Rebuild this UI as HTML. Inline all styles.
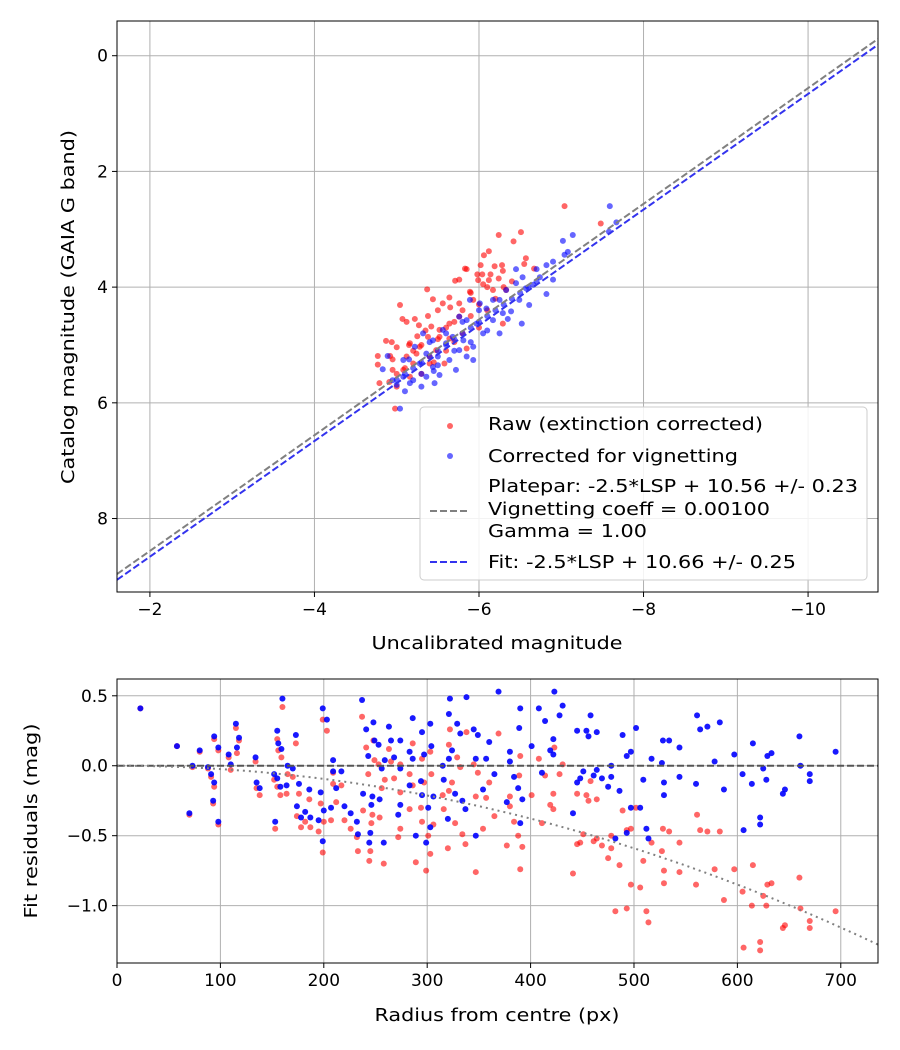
<!DOCTYPE html>
<html><head><meta charset="utf-8"><style>
body{margin:0;background:#fff}
svg{display:block;font-family:"DejaVu Sans","Liberation Sans",sans-serif}
</style></head><body>
<svg id="c" width="900" height="1050" viewBox="0 0 900 1050"></svg>
<script>
// ---- top chart data ----
const redX=[-7.04,-7.48,-6.51,-6.24,-6.42,-6.12,-6.06,-5.83,-5.85,-6.02,-6.19,-6.28,-6.57,-6.55,-6.67,-5.71,-5.76,-5.98,-6.04,-6.14,-6.29,-5.99,-6.12,-6.24,-5.37,-5.44,-5.64,-5.89,-6.17,-6.33,-5.04,-5.56,-5.76,-5.93,-5.07,-5.12,-5.22,-5.38,-5.27,-5.42,-5.52,-5.64,-5.76,-6.29,-4.87,-4.94,-5.00,-5.16,-5.28,-5.38,-5.52,-4.77,-4.77,-4.92,-5.12,-5.24,-5.48,-4.95,-5.08,-5.20,-5.40,-5.58,-4.91,-5.00,-5.16,-4.98,-5.85,-5.64,-4.79,
 -5.3,-5.5,-5.6,-5.7,-5.8,-5.9,-6.0,-6.1,-6.2,-5.4,-5.2,-5.1,-5.0,-5.3,-5.6,-5.8,-6.0,-6.3,-6.4,-6.1,-5.5,-5.35,-5.15,-4.95,-5.45,-5.7,-5.9,-6.05,-5.65,-5.25];
const redY=[2.60,2.90,3.05,3.10,3.21,3.38,3.45,3.68,3.69,3.62,3.64,3.62,3.50,3.60,3.68,3.89,3.87,3.78,3.78,3.78,3.72,3.88,3.88,3.85,4.04,4.21,4.18,4.08,4.05,4.05,4.31,4.28,4.28,4.22,4.55,4.60,4.55,4.50,4.66,4.68,4.74,4.63,4.51,4.63,4.93,4.95,5.04,4.97,5.03,4.86,4.86,5.19,5.34,5.19,5.20,5.15,5.09,5.43,5.43,5.32,5.32,5.32,5.64,5.72,5.55,6.10,5.06,4.89,5.66,
 5.0,4.9,4.7,4.6,4.4,4.5,4.3,4.4,4.2,5.2,5.1,5.4,5.5,5.5,5.1,4.8,4.7,4.0,3.9,4.0,4.4,4.75,5.0,5.25,5.3,4.95,4.1,3.95,4.35,4.85];
const blueX=[-7.59,-7.67,-7.58,-7.14,-7.02,-7.08,-7.04,-6.90,-6.82,-6.70,-6.45,-6.53,-6.74,-6.90,-6.45,-6.57,-6.66,-6.82,-6.33,-6.17,-6.25,-6.49,-6.61,-6.39,-6.29,-6.52,-5.89,-6.01,-6.09,-5.76,-5.85,-5.97,-6.17,-6.25,-6.05,-5.56,-5.68,-5.81,-5.93,-5.32,-5.44,-5.60,-5.76,-5.22,-5.36,-5.50,-5.64,-5.85,-5.93,-4.89,-5.08,-5.28,-5.44,-5.72,-5.08,-5.20,-5.36,-5.52,-5.00,-5.16,-5.30,-5.10,-4.83,-5.04,-4.95,-5.46,
 -5.2,-5.3,-5.4,-5.5,-5.6,-5.7,-5.8,-5.9,-6.0,-6.1,-6.2,-6.3,-6.4,-6.5,-6.6,-6.7,-5.1,-5.0,-5.3,-5.5,-5.7,-5.9,-6.1,-5.4,-5.6,-5.8,-6.0,-5.15,-5.45,-6.35];
const blueY=[2.60,2.88,3.04,3.10,3.20,3.39,3.44,3.56,3.62,3.69,3.69,3.83,3.83,3.87,3.93,4.02,3.96,4.12,4.05,4.22,4.22,4.22,4.31,4.42,4.45,4.63,4.22,4.28,4.37,4.51,4.57,4.63,4.57,4.80,4.80,4.74,4.86,4.92,5.03,4.80,4.92,4.97,5.09,5.03,5.15,5.20,5.26,5.20,5.26,5.19,5.26,5.32,5.38,5.43,5.55,5.61,5.55,5.52,5.69,5.66,5.72,5.80,5.42,6.10,5.61,5.66,
 5.4,5.3,5.2,5.1,5.0,4.9,4.8,4.7,4.6,4.5,4.4,4.3,4.2,4.1,4.0,3.9,5.5,5.6,5.5,5.35,5.1,4.95,4.75,4.95,4.8,4.6,4.4,5.25,5.45,4.55];
const plateparOffset=10.56;
const fitOffset=10.66;
const topXTicks=[-2,-4,-6,-8,-10];
const topYTicks=[0,2,4,6,8];
// ---- bottom chart data ----
const radius=[22.6,58,73,80,70,88,91,94,93,94,98,98,108,110,115,118,116,134,135,138,153,155,156,159,160,152,155,158,164,165,170,173,176,174,178,182,186,187,195,197,199,203,199,200,207,209,209,212,217,220,226,232,233,237,238,241,243,244,245,246,247,248,249,253,254,256,258,259,263,265,268,272,274,274,274,283,283,286,286,289,294,295,295,297,299,301,303,303,304,306,315,316,320,321,322,321,324,327,329,332,334,337,338,345,347,347,349,354,357,360,365,369,423,390,389,408,414,431,428,422,401,380,380,388,384,392,390,377,411,419,422,441,445,445,448,451,454,456,458,461,464,464,469,475,478,478,482,486,489,493,493,497,497,502,506,509,512,514,517,527,528,529,529,534,544,544,560,561,564,571,578,583,587,597,605,606,614,615,622,622,625,628,629,633,644,646,660,661,670,670,695];
const blueRes=[0.41,0.14,0.0,0.11,-0.34,-0.01,-0.06,-0.12,-0.25,0.21,0.13,-0.40,0.08,0.01,0.30,0.20,0.13,0.06,-0.12,-0.16,-0.40,0.25,0.16,0.12,0.48,-0.06,-0.09,-0.15,-0.14,0.0,-0.02,0.22,-0.13,-0.29,-0.37,-0.33,-0.17,-0.37,-0.39,-0.19,0.41,0.33,-0.54,-0.32,-0.30,-0.04,0.04,-0.16,-0.04,-0.29,-0.34,-0.40,-0.49,0.47,-0.20,0.26,0.07,-0.55,-0.48,-0.28,-0.22,0.31,0.18,0.15,-0.24,-0.02,-0.55,0.04,0.28,0.18,0.06,-0.35,0.18,-0.28,-0.02,0.10,-0.14,0.34,0.05,-0.50,-0.11,0.24,-0.21,0.08,-0.55,-0.30,-0.44,0.30,0.14,-0.22,0.0,-0.10,-0.38,0.37,0.48,0.05,0.11,-0.20,0.30,0.23,-0.25,-0.31,0.49,0.26,0.05,-0.50,0.22,-0.17,0.05,0.17,-0.06,0.53,0.53,0.41,0.27,0.41,0.32,0.43,0.36,0.19,0.14,0.10,0.03,-0.16,-0.08,-0.24,-0.41,-0.26,-0.05,0.11,0.08,-0.34,0.25,-0.12,-0.09,-0.04,0.25,0.21,0.36,-0.07,0.24,-0.03,-0.09,-0.15,0.0,-0.08,-0.52,-0.18,0.22,0.07,-0.48,0.10,-0.30,0.27,-0.30,-0.10,-0.45,-0.52,0.05,0.02,0.18,-0.12,-0.21,0.18,0.13,-0.08,-0.13,0.36,0.26,0.28,0.03,0.31,-0.17,0.08,-0.06,-0.46,-0.13,0.16,-0.37,-0.42,-0.02,-0.10,0.07,0.09,-0.20,-0.17,0.21,0.0,-0.06,-0.11,0.10];
const redRes=[0.41,0.14,-0.01,0.10,-0.35,-0.02,-0.08,-0.15,-0.27,0.19,0.11,-0.42,0.06,-0.03,0.27,0.18,0.09,0.03,-0.16,-0.21,-0.45,0.19,0.11,0.06,0.42,-0.10,-0.15,-0.21,-0.20,-0.06,-0.08,0.16,-0.20,-0.36,-0.44,-0.40,-0.24,-0.44,-0.47,-0.27,0.33,0.25,-0.62,-0.40,-0.39,-0.13,-0.05,-0.26,-0.14,-0.39,-0.45,-0.51,-0.61,0.35,-0.32,0.13,-0.06,-0.68,-0.61,-0.41,-0.35,0.18,0.04,0.01,-0.37,-0.16,-0.70,-0.10,0.12,0.03,-0.09,-0.51,0.01,-0.45,-0.19,-0.06,-0.31,0.16,-0.14,-0.69,-0.30,0.05,-0.40,-0.12,-0.75,-0.50,-0.63,0.10,-0.06,-0.42,-0.21,-0.31,-0.59,0.15,0.26,-0.18,-0.12,-0.41,0.06,-0.01,-0.49,-0.56,0.24,0.01,-0.22,-0.76,-0.05,-0.45,-0.23,-0.12,-0.36,0.23,0.13,0.07,-0.07,0.05,-0.07,0.01,-0.06,-0.20,-0.21,-0.22,-0.29,-0.50,-0.40,-0.58,-0.74,-0.57,-0.41,-0.28,-0.31,-0.77,-0.20,-0.56,-0.55,-0.49,-0.21,-0.25,-0.11,-0.54,-0.24,-0.52,-0.57,-0.66,-0.50,-0.59,-1.04,-0.71,-0.32,-0.46,-1.02,-0.45,-0.85,-0.30,-0.87,-0.68,-1.04,-1.12,-0.55,-0.61,-0.45,-0.75,-0.84,-0.47,-0.55,-0.76,-0.85,-0.35,-0.46,-0.47,-0.74,-0.47,-0.96,-0.74,-0.90,-1.30,-1.00,-0.71,-1.26,-1.32,-0.93,-1.00,-0.85,-0.84,-1.16,-1.14,-0.80,-1.02,-1.11,-1.16,-1.04];
const vignCoeff=2.36e-6;
const botXTicks=[0,100,200,300,400,500,600,700];
const botYTicks=[0.5,0.0,-0.5,-1.0];
const botYLabels=["0.5","0.0","\u22120.5","\u22121.0"];

const NS="http://www.w3.org/2000/svg";
const svg=document.getElementById('c');
function mk(tag,attrs,parent){const e=document.createElementNS(NS,tag);for(const k in attrs)e.setAttribute(k,attrs[k]);(parent||svg).appendChild(e);return e;}
function txt(s,x,y,anchor,parent,extra){const t=mk('text',Object.assign({x:x,y:y,'text-anchor':anchor,'font-size':16,fill:'#000'},extra||{}),parent);t.textContent=s;return t;}
function fit(t,w){t.setAttribute('textLength',w);t.setAttribute('lengthAdjust','spacingAndGlyphs');}
const minus=v=>String(v).replace('-','\u2212');

// ---- top axes ----
const T={l:117,r:878,t:21,b:592,x0:-1.6,x1:-10.85,y0:-0.6,y1:9.27};
const tx=v=>T.l+(v-T.x0)/(T.x1-T.x0)*(T.r-T.l);
const ty=v=>T.t+(v-T.y0)/(T.y1-T.y0)*(T.b-T.t);
const gTop=mk('g',{});


mk('defs',{}).innerHTML='<clipPath id="ct"><rect x="117" y="21" width="761" height="571"/></clipPath><clipPath id="cb"><rect x="117" y="679" width="761" height="284"/></clipPath>';
topXTicks.forEach(v=>{const x=tx(v);
 const g=mk('line',{x1:x,x2:x,y1:T.t,y2:T.b,stroke:'#b0b0b0','stroke-width':1},gTop);
 
 mk('line',{x1:x,x2:x,y1:T.b,y2:T.b+5,stroke:'#000'},gTop);
 const t=txt(minus(v),x,T.b+23,'middle',gTop,{'font-size':17});
 });
topYTicks.forEach(v=>{const y=ty(v);
 const g=mk('line',{x1:T.l,x2:T.r,y1:y,y2:y,stroke:'#b0b0b0','stroke-width':1},gTop);
 
 mk('line',{x1:T.l-5,x2:T.l,y1:y,y2:y,stroke:'#000'},gTop);
 const t=txt(String(v),T.l-9,y+6,'end',gTop,{'font-size':17});
 });
const ptsTop=mk('g',{'clip-path':'url(#ct)'},gTop);
for(let i=0;i<Math.min(redX.length,redY.length);i++){
 const c=mk('circle',{cx:tx(redX[i]),cy:ty(redY[i]),r:3,fill:'red','fill-opacity':0.6},ptsTop);
 }
for(let i=0;i<Math.min(blueX.length,blueY.length);i++){
 const c=mk('circle',{cx:tx(blueX[i]),cy:ty(blueY[i]),r:3,fill:'blue','fill-opacity':0.6},ptsTop);
 }
const lp=mk('line',{x1:tx(T.x0),y1:ty(T.x0+plateparOffset),x2:tx(T.x1),y2:ty(T.x1+plateparOffset),stroke:'#808080','stroke-width':2,'stroke-dasharray':'7,3'},ptsTop);

const lf=mk('line',{x1:tx(T.x0),y1:ty(T.x0+fitOffset),x2:tx(T.x1),y2:ty(T.x1+fitOffset),stroke:'#3333ee','stroke-width':2,'stroke-dasharray':'7,3'},ptsTop);

mk('rect',{x:T.l,y:T.t,width:T.r-T.l,height:T.b-T.t,fill:'none',stroke:'#000','stroke-width':1},gTop);
const xl=txt('Uncalibrated magnitude',497,649,'middle',gTop,{'font-size':18});
fit(xl,251);

const yl=txt('Catalog magnitude (GAIA G band)',0,0,'middle',gTop,{'font-size':18,transform:'translate(74,307) rotate(-90)'});
fit(yl,354);


// legend
const lg=mk('g',{},gTop);

mk('rect',{x:420,y:407,width:447,height:173,rx:4,fill:'#fff','fill-opacity':0.85,stroke:'#ccc'},lg);
mk('circle',{cx:450,cy:426,r:3,fill:'red','fill-opacity':0.6},lg);
fit(txt('Raw (extinction corrected)',488,430,'start',lg,{'font-size':18}),275);
mk('circle',{cx:450,cy:456,r:3,fill:'blue','fill-opacity':0.6},lg);
fit(txt('Corrected for vignetting',488,462,'start',lg,{'font-size':18}),250);
fit(txt('Platepar: -2.5*LSP + 10.56 +/- 0.23',488,492,'start',lg,{'font-size':18}),370);
fit(txt('Vignetting coeff = 0.00100',488,515,'start',lg,{'font-size':18}),282);
fit(txt('Gamma = 1.00',488,537,'start',lg,{'font-size':18}),159);
mk('line',{x1:430,x2:470,y1:511,y2:511,stroke:'#808080','stroke-width':2,'stroke-dasharray':'7,3'},lg);
mk('line',{x1:430,x2:470,y1:562,y2:562,stroke:'#3333ee','stroke-width':2,'stroke-dasharray':'7,3'},lg);
fit(txt('Fit: -2.5*LSP + 10.66 +/- 0.25',488,568,'start',lg,{'font-size':18}),308);

// ---- bottom axes ----
const B={l:117,r:878,t:679,b:963,x0:0,x1:736,y0:0.62,y1:-1.41};
const bx=v=>B.l+(v-B.x0)/(B.x1-B.x0)*(B.r-B.l);
const by=v=>B.t+(v-B.y0)/(B.y1-B.y0)*(B.b-B.t);
const gBot=mk('g',{});


botXTicks.forEach(v=>{const x=bx(v);
 const g=mk('line',{x1:x,x2:x,y1:B.t,y2:B.b,stroke:'#b0b0b0'},gBot);
 
 mk('line',{x1:x,x2:x,y1:B.b,y2:B.b+5,stroke:'#000'},gBot);
 const t=txt(String(v),x,B.b+23,'middle',gBot,{'font-size':17});
 });
botYTicks.forEach((v,i)=>{const y=by(v);
 const g=mk('line',{x1:B.l,x2:B.r,y1:y,y2:y,stroke:'#b0b0b0'},gBot);
 
 mk('line',{x1:B.l-5,x2:B.l,y1:y,y2:y,stroke:'#000'},gBot);
 const t=txt(botYLabels[i],B.l-9,y+6,'end',gBot,{'font-size':17});
 });
const ptsB=mk('g',{'clip-path':'url(#cb)'},gBot);
const n=Math.min(radius.length,blueRes.length,redRes.length);
for(let i=0;i<n;i++){
 const c=mk('circle',{cx:bx(radius[i]),cy:by(redRes[i]),r:3,fill:'red','fill-opacity':0.6},ptsB);
 }
for(let i=0;i<n;i++){
 const c=mk('circle',{cx:bx(radius[i]),cy:by(blueRes[i]),r:3,fill:'blue','fill-opacity':0.9},ptsB);
 }
const z=mk('line',{x1:B.l,x2:B.r,y1:by(0),y2:by(0),stroke:'#555','stroke-width':2,'stroke-dasharray':'7,3'},ptsB);

let d='';for(let r=0;r<=B.x1;r+=8){d+=(r?'L':'M')+bx(r).toFixed(1)+','+by(-vignCoeff*r*r).toFixed(1);}
const vc=mk('path',{d:d,fill:'none',stroke:'#808080','stroke-width':2,'stroke-dasharray':'2,4'},ptsB);

mk('rect',{x:B.l,y:B.t,width:B.r-B.l,height:B.b-B.t,fill:'none',stroke:'#000'},gBot);
const bxl=txt('Radius from centre (px)',497,1021,'middle',gBot,{'font-size':18});
fit(bxl,245);

const byl=txt('Fit residuals (mag)',0,0,'middle',gBot,{'font-size':18,transform:'translate(37,821) rotate(-90)'});
fit(byl,195);

</script>
</body></html>
